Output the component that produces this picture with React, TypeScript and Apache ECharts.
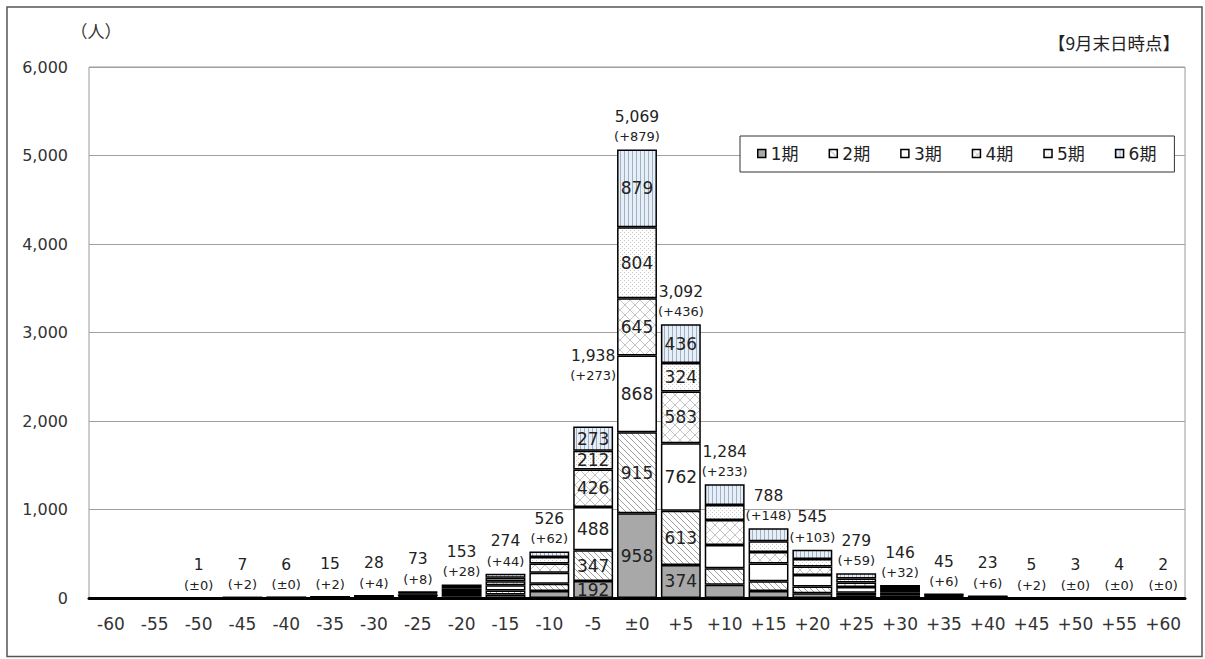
import React, { useEffect, useRef } from 'react';
import * as echarts from 'echarts';

const CATEGORIES = ['-60', '-55', '-50', '-45', '-40', '-35', '-30', '-25', '-20', '-15', '-10', '-5', '±0', '+5', '+10', '+15', '+20', '+25', '+30', '+35', '+40', '+45', '+50', '+55', '+60'];
const PERIOD_NAMES = ['1期', '2期', '3期', '4期', '5期', '6期'];

const P1 = [0, 0, 0, 1, 1, 2, 3, 10, 20, 40, 80, 192, 958, 374, 150, 80, 55, 25, 12, 3, 1, 0, 0, 1, 0];
const P2 = [0, 0, 0, 1, 1, 2, 4, 12, 25, 45, 82, 347, 915, 613, 187, 110, 75, 35, 18, 5, 2, 1, 1, 1, 1];
const P3 = [0, 0, 1, 1, 2, 4, 7, 18, 35, 60, 122, 488, 868, 762, 262, 200, 130, 65, 35, 12, 5, 1, 1, 1, 0];
const P4 = [0, 0, 0, 1, 1, 3, 5, 13, 25, 45, 105, 426, 645, 583, 282, 130, 95, 50, 25, 10, 5, 0, 0, 0, 1];
const P5 = [0, 0, 0, 1, 1, 2, 5, 12, 20, 40, 75, 212, 804, 324, 170, 120, 87, 45, 24, 9, 4, 1, 1, 1, 0];
const P6 = [0, 0, 0, 2, 0, 2, 4, 8, 28, 44, 62, 273, 879, 436, 233, 148, 103, 59, 32, 6, 6, 2, 0, 0, 0];

const TOTALS = [0, 0, 1, 7, 6, 15, 28, 73, 153, 274, 526, 1938, 5069, 3092, 1284, 788, 545, 279, 146, 45, 23, 5, 3, 4, 2];

const LABELED_INDEXES = [11, 12, 13];
const RAISED_TOTAL_INDEX = 11;
const Y_TICKS = [0, 1000, 2000, 3000, 4000, 5000, 6000];

const FONT = "'DejaVu Sans', 'Noto Sans CJK JP', sans-serif";
const JP_FONT = "'Noto Sans CJK JP', sans-serif";

function makeCanvas(w: number, h: number, draw: (ctx: CanvasRenderingContext2D) => void) {
  const c = document.createElement('canvas');
  c.width = w;
  c.height = h;
  const ctx = c.getContext('2d') as CanvasRenderingContext2D;
  draw(ctx);
  return c;
}

function pattern(c: HTMLCanvasElement) {
  return { image: c, repeat: 'repeat', imageWidth: c.width, imageHeight: c.height } as any;
}

function buildFills() {
  const hatch = makeCanvas(6, 6, (ctx) => {
    ctx.fillStyle = '#ffffff';
    ctx.fillRect(0, 0, 6, 6);
    ctx.strokeStyle = '#a0a0a0';
    ctx.lineWidth = 1;
    ctx.beginPath();
    ctx.moveTo(-1, -1); ctx.lineTo(7, 7);
    ctx.moveTo(-1, 5); ctx.lineTo(1, 7);
    ctx.moveTo(5, -1); ctx.lineTo(7, 1);
    ctx.stroke();
  });
  const cross = makeCanvas(10, 10, (ctx) => {
    ctx.fillStyle = '#ffffff';
    ctx.fillRect(0, 0, 10, 10);
    ctx.strokeStyle = '#c4c4c4';
    ctx.lineWidth = 1;
    ctx.beginPath();
    ctx.moveTo(0, 0); ctx.lineTo(10, 10);
    ctx.moveTo(10, 0); ctx.lineTo(0, 10);
    ctx.stroke();
  });
  const dots = makeCanvas(4, 4, (ctx) => {
    ctx.fillStyle = '#ffffff';
    ctx.fillRect(0, 0, 4, 4);
    ctx.fillStyle = '#c8c8c8';
    ctx.fillRect(0, 0, 1, 1);
    ctx.fillRect(2, 2, 1, 1);
  });
  const vert = makeCanvas(4, 4, (ctx) => {
    ctx.fillStyle = '#e6eef9';
    ctx.fillRect(0, 0, 4, 4);
    ctx.fillStyle = '#a3b0c0';
    ctx.fillRect(0, 0, 1, 4);
  });
  return ['#a8a8a8', pattern(hatch), '#ffffff', pattern(cross), pattern(dots), pattern(vert)];
}

export default function App() {
  const ref = useRef<HTMLDivElement>(null);

  useEffect(() => {
    if (!ref.current) return;
    const chart = echarts.init(ref.current, undefined, { renderer: 'svg' });
    const fills = buildFills();
    const periods = [P1, P2, P3, P4, P5, P6];

    const series: any[] = periods.map((d, k) => ({
      name: PERIOD_NAMES[k],
      type: 'bar',
      stack: 'total',
      data: d,
      barCategoryGap: '9%',
      barGap: '-100%',
      itemStyle: { color: fills[k], borderColor: '#000', borderWidth: 1.5 },
      emphasis: { disabled: true },
      label: {
        show: true,
        position: 'inside',
        fontSize: 17,
        color: '#222',
        fontFamily: FONT,
        formatter: (p: any) => (LABELED_INDEXES.includes(p.dataIndex) ? String(p.value) : ''),
      },
    }));

    const totalData = TOTALS.map((v, i) =>
      i === RAISED_TOTAL_INDEX ? { value: v, label: { offset: [0, -38] } } : v
    );

    series.push({
      name: '合計',
      type: 'bar',
      data: totalData,
      barCategoryGap: '9%',
      barGap: '-100%',
      silent: true,
      z: 5,
      itemStyle: { color: 'rgba(0,0,0,0)', borderWidth: 0 },
      emphasis: { disabled: true },
      label: {
        show: true,
        position: 'top',
        distance: 3,
        fontFamily: FONT,
        formatter: (p: any) => {
          const t = TOTALS[p.dataIndex];
          if (!t) return '';
          const inc = P6[p.dataIndex];
          const incText = inc === 0 ? '(±0)' : '(+' + inc + ')';
          return '{t|' + t.toLocaleString('en-US') + '}\n{i|' + incText + '}';
        },
        rich: {
          t: { fontSize: 15.5, lineHeight: 21, color: '#222', fontFamily: FONT },
          i: { fontSize: 13, lineHeight: 19, color: '#222', fontFamily: FONT },
        },
      },
    });

    chart.setOption({
      animation: false,
      grid: {
        left: 89,
        right: 20,
        top: 67,
        bottom: 61,
        show: true,
        borderColor: '#9a9a9a',
        borderWidth: 1,
        backgroundColor: 'transparent',
      },
      legend: {
        data: PERIOD_NAMES,
        left: 740,
        top: 136,
        padding: [9, 18, 10, 17],
        itemWidth: 8,
        itemHeight: 8,
        itemGap: 30,
        icon: 'rect',
        borderColor: '#333',
        borderWidth: 1,
        backgroundColor: '#fff',
        selectedMode: false,
        itemStyle: { borderColor: '#000', borderWidth: 1.5 },
        textStyle: { fontSize: 17, color: '#222', fontFamily: FONT },
      },
      xAxis: {
        type: 'category',
        data: CATEGORIES,
        axisTick: { show: false },
        axisLine: { show: true, lineStyle: { color: '#000', width: 3 } },
        axisLabel: { fontSize: 17, color: '#333', fontFamily: FONT, margin: 17, interval: 0 },
      },
      yAxis: {
        type: 'value',
        min: Y_TICKS[0],
        max: Y_TICKS[Y_TICKS.length - 1],
        interval: 1000,
        axisLine: { show: false },
        axisTick: { show: false },
        splitLine: { lineStyle: { color: '#a0a0a0', width: 1 } },
        axisLabel: {
          fontSize: 16,
          color: '#333',
          fontFamily: FONT,
          margin: 21,
          formatter: (v: number) => v.toLocaleString('en-US'),
        },
      },
      graphic: [
        {
          type: 'rect',
          shape: { x: 7, y: 7, width: 1195, height: 649.5 },
          style: { fill: 'none', stroke: '#555', lineWidth: 1.5 },
          silent: true,
        },
        {
          type: 'text',
          x: 96,
          y: 30,
          style: { text: '（人）', fontSize: 17, fill: '#333', fontFamily: JP_FONT, align: 'center', verticalAlign: 'middle' },
          silent: true,
        },
        {
          type: 'text',
          x: 1114,
          y: 42,
          style: { text: '【9月末日時点】', fontSize: 17.5, fill: '#222', fontFamily: JP_FONT, align: 'center', verticalAlign: 'middle' },
          silent: true,
        },
      ],
      series,
    });

    return () => chart.dispose();
  }, []);

  return (
    <div
      ref={ref}
      style={{ position: 'absolute', left: 0, top: 0, width: 1205, height: 659, background: '#fff' }}
    />
  );
}
